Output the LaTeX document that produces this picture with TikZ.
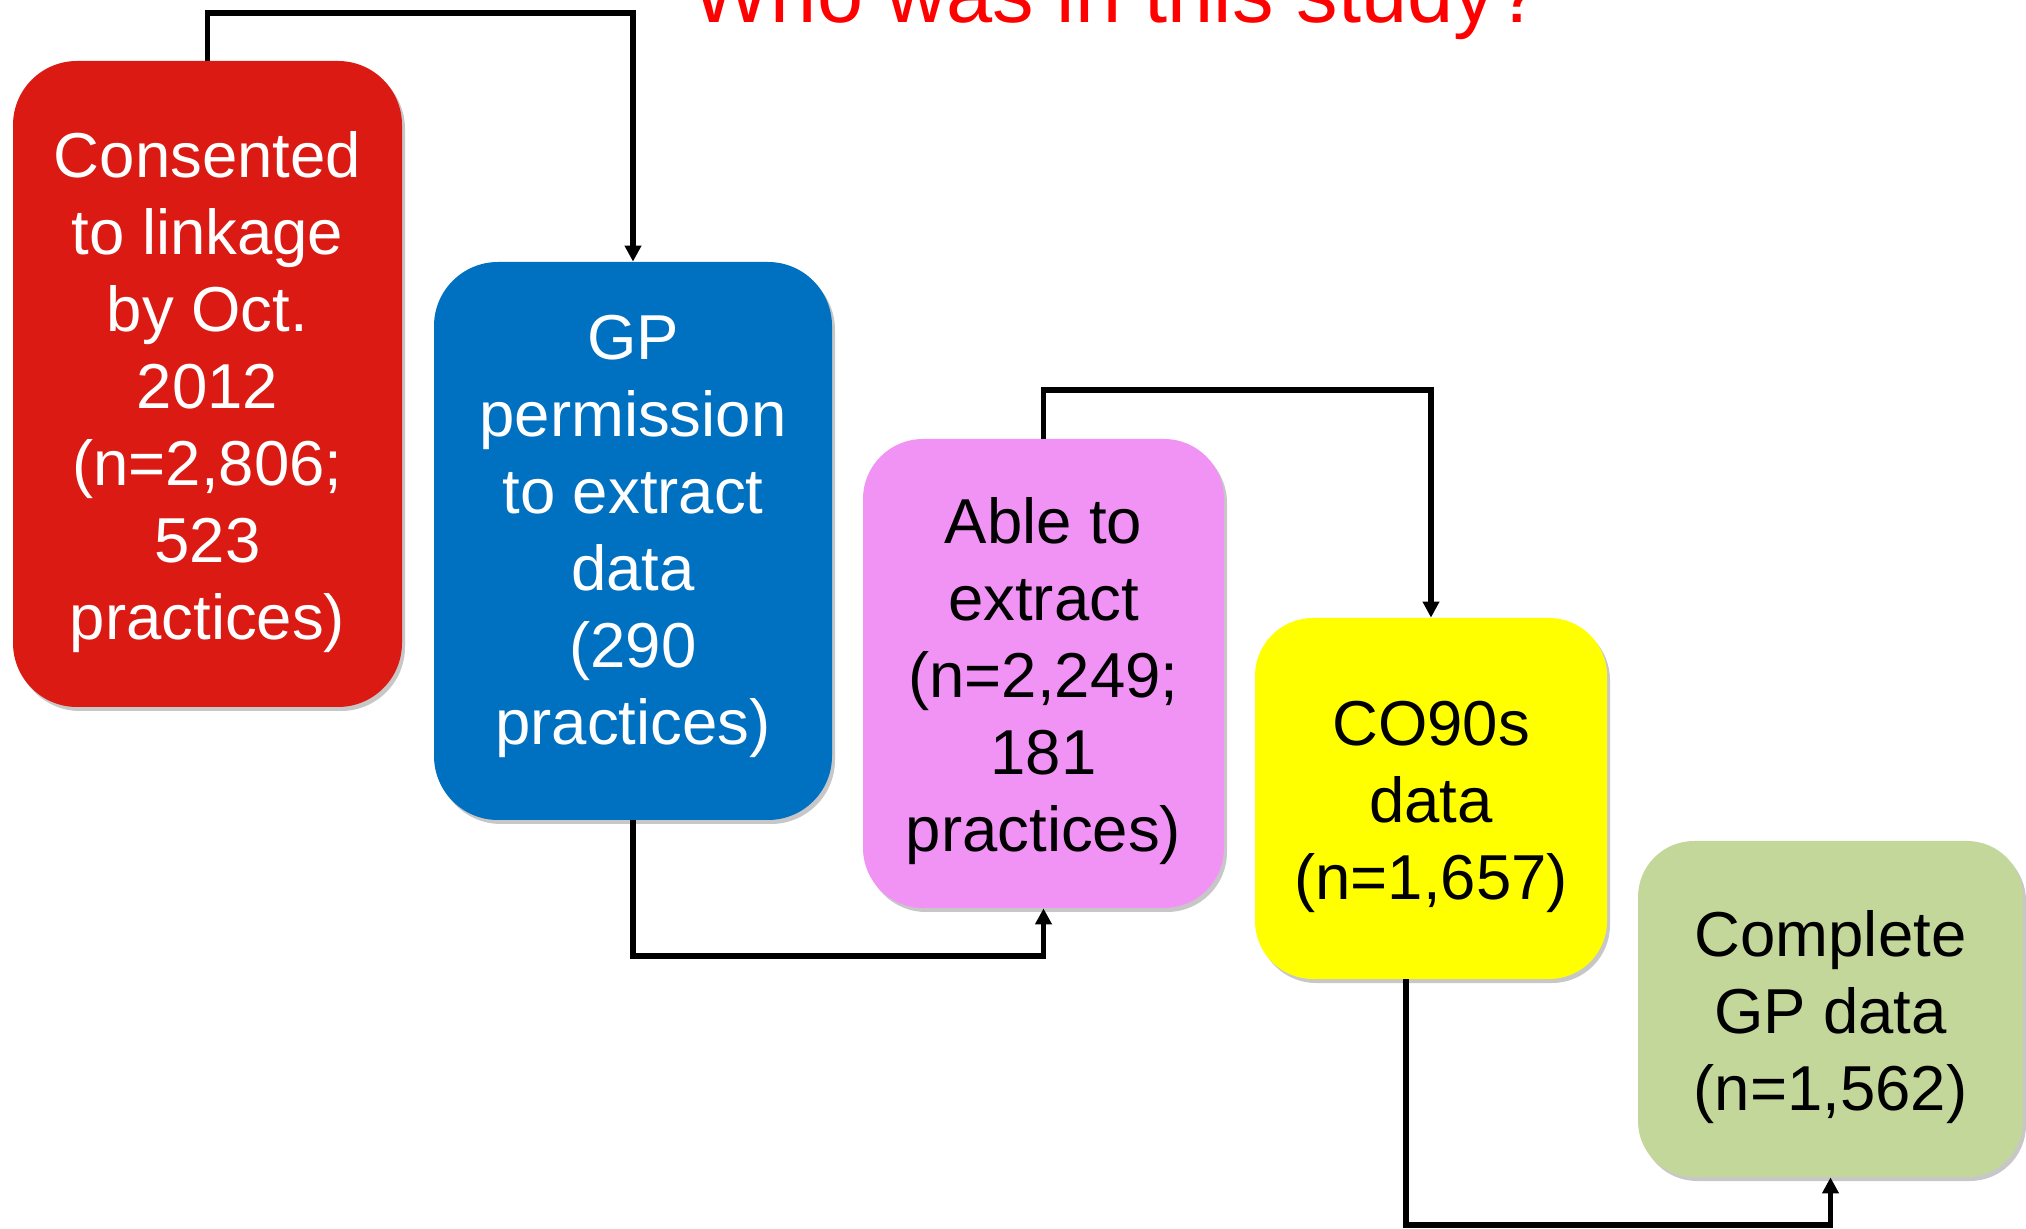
\documentclass[tikz,border=0pt]{standalone}
\usepackage{fontspec}
\setmainfont{Liberation Sans}
\usetikzlibrary{arrows.meta,shadows}
\definecolor{cred}{RGB}{218,26,19}
\definecolor{cblue}{RGB}{0,112,192}
\definecolor{cpink}{RGB}{241,147,245}
\definecolor{cyellow}{RGB}{255,255,0}
\definecolor{cgreen}{RGB}{196,215,155}
\definecolor{ctitle}{RGB}{255,0,0}
\begin{document}
\begin{tikzpicture}[x=0.5pt,y=-0.5pt,
  boxstyle/.style={rectangle, inner sep=0pt,
    drop shadow={shadow xshift=1.5pt, shadow yshift=-2pt, opacity=0.22, fill=black}},
  boxtext/.style={align=center, inner sep=0pt, yshift=-4pt,
    font=\fontsize{31.75}{38.5}\selectfont},
  conn/.style={draw=black, line width=2.6pt, line join=miter,
    -{Triangle[width=8pt,length=8pt]}}]
\useasboundingbox (0,0) rectangle (2026,1229);
\node[anchor=base, text=ctitle, font=\fontsize{41.5}{50}\selectfont] (title) at (1117,23) {Who was in this study?};
\node[boxstyle, fill=cred, minimum width=194.5pt, minimum height=323pt, rounded corners=32pt] (red) at (207.5,384) {};
\node[boxtext, text=white] (redtext) at (red.center)
  {Consented\\to linkage\\by Oct.\\2012\\(n=2,806;\\523\\practices)};
\node[boxstyle, fill=cblue, minimum width=199pt, minimum height=279pt, rounded corners=32pt] (blue) at (633,541) {};
\node[boxtext, text=white, yshift=6.5pt] (bluetext) at (blue.center)
  {GP\\permission\\to extract\\data\\(290\\practices)};
\node[boxstyle, fill=cpink, minimum width=180.5pt, minimum height=234.5pt, rounded corners=30pt] (pink) at (1043.5,673.5) {};
\node[boxtext, text=black] (pinktext) at (pink.center)
  {Able to\\extract\\(n=2,249;\\181\\practices)};
\node[boxstyle, fill=cyellow, minimum width=176pt, minimum height=180.5pt, rounded corners=29pt] (yellow) at (1431,798.5) {};
\node[boxtext, text=black] (yellowtext) at (yellow.center)
  {CO90s\\data\\(n=1,657)};
\node[boxstyle, fill=cgreen, minimum width=192.5pt, minimum height=168pt, rounded corners=28pt] (green) at (1830.5,1009) {};
\node[boxtext, text=black] (greentext) at (green.center)
  {Complete\\GP data\\(n=1,562)};
\coordinate (k1) at (400,13);
\coordinate (k2) at (800,956);
\coordinate (k3) at (1200,390);
\coordinate (y4) at (1406,979);
\coordinate (k4) at (1600,1225);
\draw[conn] (red.north) |- (k1) -| (blue.north);
\draw[conn] (blue.south) |- (k2) -| (pink.south);
\draw[conn] (pink.north) |- (k3) -| (yellow.north);
\draw[conn] (y4) |- (k4) -| (green.south);
\end{tikzpicture}
\end{document}
